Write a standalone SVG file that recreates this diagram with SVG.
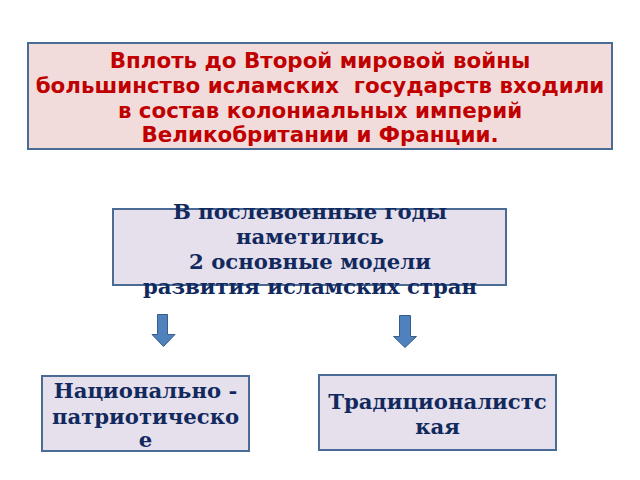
<svg xmlns="http://www.w3.org/2000/svg" width="640" height="480" viewBox="0 0 640 480">
<style>
.box{stroke:#4a6b96;stroke-width:2}
.red{fill:#c00000;font-family:"DejaVu Sans",sans-serif;font-weight:bold;font-size:21.4px;text-anchor:middle}
.blue{fill:#12295e;font-family:"DejaVu Serif",serif;font-weight:bold;font-size:21.2px;text-anchor:middle}
.arr{fill:#4f81bd;stroke:#385d8a;stroke-width:1}
</style>
<rect width="640" height="480" fill="#ffffff"/>
<g id="top">
<rect class="box" x="28" y="43" width="584" height="106" fill="#f2dcdb"/>
<text class="red" x="320" y="68">Вплоть до Второй мировой войны</text>
<text class="red" x="320" y="93" xml:space="preserve">большинство исламских  государств входили</text>
<text class="red" x="320" y="118">в состав колониальных империй</text>
<text class="red" x="320" y="142">Великобритании и Франции.</text>
</g>
<g id="middle">
<rect class="box" x="113" y="209" width="393" height="76" fill="#e5e0ec"/>
<text class="blue" x="310" y="219">В послевоенные годы</text>
<text class="blue" x="310" y="244">наметились</text>
<text class="blue" x="310" y="269">2 основные модели</text>
<text class="blue" x="310" y="294">развития исламских стран</text>
</g>
<g id="connectors">
<path class="arr" d="M157.5,314.5 H167.5 V334.5 H175 L163.5,346.5 L152,334.5 H157.5 Z"/>
<path class="arr" d="M399.5,315.5 H410.5 V336.5 H416.5 L405,347.5 L393.5,336.5 H399.5 Z"/>
</g>
<g id="left">
<rect class="box" x="42" y="376" width="207" height="75" fill="#e5e0ec"/>
<text class="blue" x="145.5" y="398">Национально -</text>
<text class="blue" x="145.5" y="424">патриотическо</text>
<text class="blue" x="145.5" y="447">е</text>
</g>
<g id="right">
<rect class="box" x="319" y="375" width="237" height="75" fill="#e5e0ec"/>
<text class="blue" x="437.5" y="409">Традиционалистс</text>
<text class="blue" x="437.5" y="434">кая</text>
</g>
</svg>
